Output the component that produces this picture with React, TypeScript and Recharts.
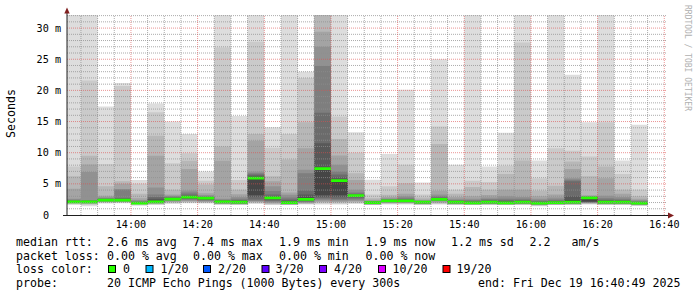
import React from 'react';
import { ComposedChart, Area, XAxis, YAxis, ReferenceLine } from 'recharts';

// ---- time window and bars (5-minute steps) ----
const viewStart = '13:40:49';
const viewEnd = '16:40:49';
const barStarts = [
  '13:40:49', '13:45', '13:50', '13:55',
  '14:00', '14:05', '14:10', '14:15', '14:20', '14:25', '14:30', '14:35', '14:40', '14:45', '14:50', '14:55',
  '15:00', '15:05', '15:10', '15:15', '15:20', '15:25', '15:30', '15:35', '15:40', '15:45', '15:50', '15:55',
  '16:00', '16:05', '16:10', '16:15', '16:20', '16:25', '16:30',
];
const lastBarEnd = '16:35';

// ---- 20 sorted ping RTTs (ms) per bar ----
const pings: number[][] = [
  [1.6, 1.75, 1.85, 1.9, 1.95, 2.0, 2.02, 2.05, 2.07, 2.1, 2.1, 2.15, 2.2, 2.3, 2.45, 2.6, 4.2, 6.2, 7.8, 32.1],
  [1.4, 1.6, 1.75, 1.85, 1.9, 1.95, 2.0, 2.03, 2.06, 2.1, 2.1, 2.15, 2.2, 2.3, 2.4, 6.9, 8.1, 9.5, 21.6, 32.1],
  [1.85, 1.95, 2.05, 2.1, 2.15, 2.2, 2.25, 2.3, 2.35, 2.4, 2.4, 2.45, 2.5, 2.6, 2.7, 2.85, 3.1, 4.6, 8.2, 17.4],
  [1.9, 2.0, 2.05, 2.1, 2.15, 2.2, 2.25, 2.3, 2.35, 2.4, 2.4, 2.5, 2.6, 2.7, 4.1, 4.15, 5.0, 5.4, 20.7, 21.2],
  [1.5, 1.6, 1.7, 1.75, 1.8, 1.83, 1.85, 1.87, 1.88, 1.9, 1.9, 1.95, 2.0, 2.1, 2.2, 2.4, 2.7, 3.4, 5.0, 5.6],
  [1.6, 1.7, 1.8, 1.85, 1.9, 1.95, 2.0, 2.05, 2.08, 2.1, 2.1, 2.3, 2.6, 2.9, 3.3, 4.4, 9.5, 12.7, 16.5, 17.9],
  [1.8, 1.9, 2.0, 2.1, 2.2, 2.3, 2.4, 2.45, 2.5, 2.55, 2.55, 2.6, 2.7, 2.8, 2.95, 3.1, 3.3, 4.05, 8.3, 15.0],
  [1.9, 2.0, 2.1, 2.2, 2.3, 2.45, 2.55, 2.65, 2.75, 2.85, 2.85, 2.95, 3.1, 3.3, 3.6, 3.95, 7.4, 8.7, 9.9, 13.0],
  [1.85, 1.95, 2.0, 2.1, 2.2, 2.3, 2.4, 2.5, 2.6, 2.7, 2.7, 2.75, 2.8, 2.9, 3.0, 3.2, 3.5, 4.9, 5.5, 7.0],
  [1.6, 1.7, 1.75, 1.8, 1.85, 1.9, 1.95, 2.0, 2.05, 2.1, 2.1, 2.2, 2.25, 2.35, 2.45, 2.6, 8.7, 11.0, 26.9, 32.1],
  [1.6, 1.65, 1.7, 1.75, 1.8, 1.85, 1.9, 1.95, 2.0, 2.05, 2.05, 2.15, 2.25, 2.4, 2.6, 2.9, 3.35, 4.05, 5.6, 15.9],
  [1.8, 1.9, 2.0, 2.1, 2.2, 2.3, 2.5, 2.9, 3.2, 5.9, 5.95, 6.1, 6.3, 6.5, 6.7, 7.0, 11.9, 13.0, 27.8, 32.1],
  [1.6, 1.7, 1.8, 1.9, 2.0, 2.15, 2.3, 2.45, 2.6, 2.75, 2.75, 2.85, 3.0, 3.3, 3.85, 4.6, 5.4, 6.2, 10.8, 14.1],
  [1.6, 1.62, 1.65, 1.7, 1.75, 1.8, 1.85, 1.9, 1.95, 2.0, 2.0, 2.15, 2.3, 2.5, 2.8, 3.25, 3.6, 8.9, 13.0, 32.1],
  [1.7, 1.8, 1.85, 1.9, 2.0, 2.1, 2.2, 2.3, 2.4, 2.5, 2.55, 2.8, 3.3, 3.95, 6.7, 7.25, 10.7, 14.9, 22.0, 23.0],
  [1.7, 1.85, 2.0, 2.1, 2.3, 2.5, 2.7, 2.9, 3.2, 7.4, 7.5, 7.6, 11.5, 16.4, 23.9, 27.0, 29.4, 32.1, 32.1, 32.1],
  [1.7, 1.8, 2.0, 2.1, 2.2, 2.4, 2.6, 2.9, 3.2, 5.5, 5.55, 5.7, 6.0, 6.5, 7.0, 8.05, 9.55, 12.2, 15.8, 32.1],
  [1.8, 1.9, 2.0, 2.15, 2.3, 2.5, 2.7, 2.9, 3.0, 3.1, 3.1, 3.15, 3.25, 3.4, 3.6, 4.05, 5.6, 6.7, 10.0, 13.3],
  [1.6, 1.62, 1.65, 1.7, 1.75, 1.8, 1.85, 1.9, 1.95, 2.0, 2.0, 2.05, 2.1, 2.15, 2.2, 2.3, 2.45, 2.7, 3.3, 5.65],
  [1.7, 1.8, 1.85, 1.95, 2.0, 2.05, 2.1, 2.15, 2.2, 2.25, 2.25, 2.3, 2.35, 2.45, 2.55, 2.7, 2.9, 3.25, 4.6, 9.8],
  [1.7, 1.8, 1.85, 1.95, 2.0, 2.05, 2.1, 2.15, 2.2, 2.25, 2.25, 2.3, 2.4, 2.55, 2.75, 3.0, 3.4, 5.1, 8.05, 20.1],
  [1.6, 1.65, 1.7, 1.75, 1.8, 1.85, 1.9, 1.95, 2.0, 2.05, 2.05, 2.1, 2.15, 2.2, 2.25, 2.35, 2.5, 2.8, 3.3, 5.2],
  [1.7, 1.8, 1.9, 2.0, 2.15, 2.25, 2.35, 2.4, 2.45, 2.5, 2.5, 2.55, 2.65, 2.8, 3.0, 3.3, 3.9, 11.4, 14.2, 25.0],
  [1.6, 1.65, 1.7, 1.75, 1.8, 1.85, 1.9, 1.95, 2.0, 2.05, 2.05, 2.1, 2.2, 2.3, 2.4, 2.6, 2.9, 3.4, 4.05, 8.05],
  [1.6, 1.62, 1.65, 1.7, 1.75, 1.8, 1.85, 1.88, 1.9, 1.95, 1.95, 2.0, 2.1, 2.25, 2.4, 2.6, 3.0, 4.5, 5.5, 32.1],
  [1.6, 1.65, 1.7, 1.75, 1.8, 1.85, 1.9, 1.95, 2.0, 2.05, 2.05, 2.1, 2.2, 2.35, 2.55, 2.8, 3.2, 4.05, 5.3, 7.8],
  [1.6, 1.62, 1.65, 1.7, 1.75, 1.8, 1.85, 1.88, 1.9, 1.95, 1.95, 2.05, 2.2, 2.35, 2.6, 3.0, 4.05, 6.6, 7.9, 13.2],
  [1.6, 1.65, 1.7, 1.75, 1.8, 1.85, 1.9, 1.95, 2.0, 2.05, 2.05, 2.1, 2.25, 2.4, 2.6, 2.9, 4.05, 8.75, 27.7, 32.1],
  [1.4, 1.5, 1.55, 1.6, 1.65, 1.7, 1.75, 1.8, 1.85, 1.9, 1.9, 1.95, 2.05, 2.2, 2.35, 2.6, 3.0, 3.9, 5.9, 8.75],
  [1.6, 1.62, 1.65, 1.7, 1.75, 1.8, 1.85, 1.9, 1.95, 2.0, 2.0, 2.1, 2.2, 2.3, 2.5, 2.8, 3.3, 4.7, 10.7, 32.1],
  [1.6, 1.65, 1.7, 1.75, 1.8, 1.85, 1.9, 1.95, 2.0, 2.05, 2.1, 2.4, 3.0, 5.4, 5.65, 5.9, 7.4, 8.6, 10.3, 22.5],
  [1.7, 1.8, 1.85, 1.9, 1.95, 2.0, 2.05, 2.1, 2.2, 2.75, 2.75, 2.8, 2.85, 2.9, 2.95, 3.05, 3.15, 6.2, 9.4, 14.9],
  [1.6, 1.65, 1.7, 1.75, 1.8, 1.85, 1.9, 1.95, 2.0, 2.05, 2.05, 2.15, 2.3, 2.45, 2.7, 3.1, 5.9, 7.8, 14.9, 32.1],
  [1.6, 1.65, 1.7, 1.75, 1.8, 1.85, 1.9, 1.95, 2.0, 2.05, 2.05, 2.1, 2.25, 2.4, 2.6, 2.9, 3.4, 4.05, 6.6, 8.75],
  [1.5, 1.52, 1.55, 1.6, 1.65, 1.7, 1.75, 1.8, 1.85, 1.9, 1.9, 1.95, 2.0, 2.1, 2.25, 2.4, 2.6, 3.0, 4.05, 14.5],
];

// ---- axes ----
const xTickLabels = ['14:00', '14:20', '14:40', '15:00', '15:20', '15:40', '16:00', '16:20', '16:40'];
const yTickValues = [0, 5, 10, 15, 20, 25, 30];
const yTop = 32.1;
const medianHalfWidth = 0.22;

// ---- legend texts ----
const statRtt = ['2.6 ms avg', '7.4 ms max', '1.9 ms min', '1.9 ms now', '1.2 ms sd', '2.2', 'am/s'];
const statLoss = ['0.00 % avg', '0.00 % max', '0.00 % min', '0.00 % now'];
const lossLabels = ['0', '1/20', '2/20', '3/20', '4/20', '10/20', '19/20'];
const lossColors = ['#26ff00', '#00b8ff', '#0059ff', '#5e00ff', '#7e00ff', '#dd00ff', '#ff0000'];
const probeText = '20 ICMP Echo Pings (1000 Bytes) every 300s';
const endText = 'end: Fri Dec 19 16:40:49 2025';

const smokeGrays = ['#dddddd', '#cacaca', '#b7b7b7', '#a4a4a4', '#919191', '#7e7e7e', '#6b6b6b', '#585858', '#454545', '#323232'];

const toMin = (s: string) => {
  const [h, m, sec] = s.split(':');
  return Number(h) * 60 + Number(m) + (sec ? Number(sec) / 60 : 0);
};
const fmtTime = (v: number) => {
  const h = Math.floor(v / 60);
  const m = Math.round(v - h * 60);
  return `${h}:${m < 10 ? '0' : ''}${m}`;
};

const rows = [
  ...barStarts.map((s, i) => ({ t: toMin(s), p: pings[i] })),
  { t: toMin(lastBarEnd), p: pings[pings.length - 1] },
];

const xStart = toMin(viewStart);
const xEnd = toMin(viewEnd);
const xTickVals = xTickLabels.map(toMin);

const minorY: number[] = [];
for (let v = 1; v < yTop; v++) if (v % 5 !== 0) minorY.push(v);
const majorY = yTickValues.filter((v) => v > 0);
const minorX: number[] = [];
const majorX: number[] = [];
for (let v = Math.ceil(xStart / 5) * 5; v <= xEnd; v += 5) {
  if (v % 20 === 0) majorX.push(v);
  else minorX.push(v);
}

const MONO = '"DejaVu Sans Mono", monospace';
const GRID = 'rgba(143,143,143,0.75)';
const MGRID = 'rgba(222,79,79,0.6)';
const ARROW = '#801f1f';

const YTick = (props: any) => {
  const v = props.payload.value;
  const label = v === 0 ? '0' : `${v} m`;
  const x = v === 0 ? 49 : 61;
  return (
    <text x={x} y={props.y + 3.6} textAnchor="end" fontFamily={MONO} fontSize={10.15} fill="#000">
      {label}
    </text>
  );
};

const XTick = (props: any) => (
  <text x={props.x} y={227.5} textAnchor="middle" fontFamily={MONO} fontSize={10.15} fill="#000">
    {fmtTime(props.payload.value)}
  </text>
);

const rttX = [107, 193, 279, 365.5, 451, 529.5, 571.5];
const lossX = [107, 193, 279, 365.5];
const boxX = [108, 145.5, 203, 261.5, 319, 378, 442.5];
const lossLabelX = [123, 160.5, 218, 275.5, 334, 392.5, 456.5];

export default function App() {
  return (
    <div style={{ position: 'absolute', left: 0, top: 0, width: 697, height: 297, background: '#fff' }}>
      <ComposedChart width={697} height={297} data={rows} margin={{ top: 15, right: 30, bottom: 62, left: 0 }}>
        <XAxis
          dataKey="t"
          type="number"
          domain={[xStart, xEnd]}
          allowDataOverflow
          ticks={xTickVals}
          interval={0}
          tick={(p: any) => <XTick {...p} />}
          axisLine={false}
          tickLine={false}
          height={20}
        />
        <YAxis
          type="number"
          domain={[0, yTop]}
          allowDataOverflow
          ticks={yTickValues}
          interval={0}
          tick={(p: any) => <YTick {...p} />}
          axisLine={false}
          tickLine={false}
          width={67}
        />
        {smokeGrays.map((c, i) => (
          <Area
            key={`smoke${i}`}
            type="stepAfter"
            dataKey={(r: any) => [r.p[i], r.p[19 - i]]}
            stroke="none"
            fill={c}
            fillOpacity={1}
            isAnimationActive={false}
            dot={false}
            activeDot={false}
          />
        ))}
        <Area
          type="stepAfter"
          dataKey={(r: any) => {
            const m = (r.p[9] + r.p[10]) / 2;
            return [m - medianHalfWidth, m + medianHalfWidth];
          }}
          stroke="none"
          fill={lossColors[0]}
          fillOpacity={1}
          isAnimationActive={false}
          dot={false}
          activeDot={false}
        />
        {minorY.map((v) => (
          <ReferenceLine key={`my${v}`} y={v} stroke={GRID} strokeDasharray="1 1" strokeWidth={1} />
        ))}
        {minorX.map((v) => (
          <ReferenceLine key={`mx${v}`} x={v} stroke={GRID} strokeDasharray="1 1" strokeWidth={1} />
        ))}
        {majorY.map((v) => (
          <ReferenceLine key={`My${v}`} y={v} stroke={MGRID} strokeDasharray="1 1" strokeWidth={1} />
        ))}
        {majorX.map((v) => (
          <ReferenceLine key={`Mx${v}`} x={v} stroke={MGRID} strokeDasharray="1 1" strokeWidth={1} />
        ))}
      </ComposedChart>
      <svg
        width={697}
        height={297}
        style={{ position: 'absolute', left: 0, top: 0, pointerEvents: 'none' }}
        fontFamily={MONO}
      >
        {/* axes */}
        <line x1={63} y1={215.5} x2={669} y2={215.5} stroke="#1f1f1f" strokeWidth={1} />
        <line x1={67} y1={216} x2={67} y2={12} stroke="#1f1f1f" strokeWidth={1} />
        <polygon points="64.3,13.5 69.7,13.5 67,7.5" fill={ARROW} />
        <polygon points="668,212.5 668,218.5 674,215.5" fill={ARROW} />
        {/* unit label */}
        <text transform="translate(14.5,113.5) rotate(-90)" textAnchor="middle" fontSize={11.6} fill="#000">
          Seconds
        </text>
        {/* watermark */}
        <text transform="translate(685,5) rotate(90)" fontSize={8} fill="#b0b0b0">
          RRDTOOL / TOBI OETIKER
        </text>
        {/* legend */}
        <g fontSize={11.6} fill="#000">
          <text x={16} y={245.7}>median rtt:</text>
          {statRtt.map((s, i) => (
            <text key={`r${i}`} x={rttX[i]} y={245.7}>{s}</text>
          ))}
          <text x={16} y={259.5}>packet loss:</text>
          {statLoss.map((s, i) => (
            <text key={`l${i}`} x={lossX[i]} y={259.5}>{s}</text>
          ))}
          <text x={16} y={273.3}>loss color:</text>
          {lossLabels.map((s, i) => (
            <g key={`c${i}`}>
              <rect x={boxX[i] + 0.5} y={265.5} width={7} height={7} fill={lossColors[i]} stroke="#000" strokeWidth={1} />
              <text x={lossLabelX[i]} y={273.3}>{s}</text>
            </g>
          ))}
          <text x={16} y={287.1}>probe:</text>
          <text x={107} y={287.1}>{probeText}</text>
          <text x={478} y={287.1}>{endText}</text>
        </g>
      </svg>
    </div>
  );
}
